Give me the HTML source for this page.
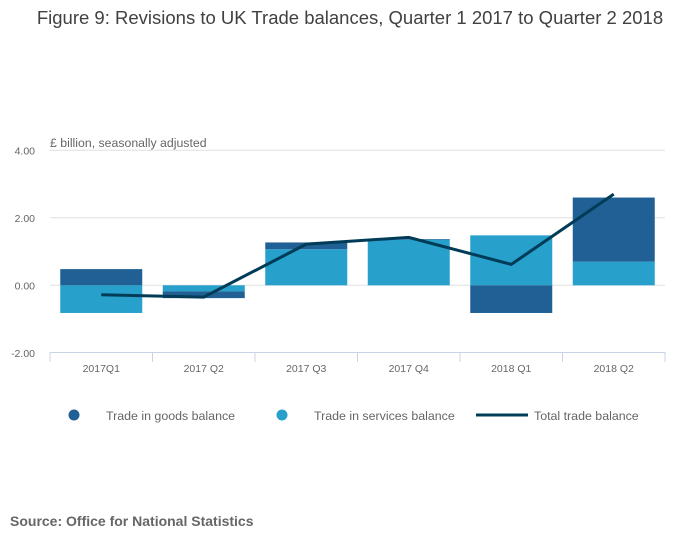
<!DOCTYPE html>
<html><head><meta charset="utf-8"><style>
body{margin:0;background:#fff;font-family:"Liberation Sans",sans-serif;}
</style></head><body>
<svg width="700" height="549" xmlns="http://www.w3.org/2000/svg">
<text x="350" y="24" text-anchor="middle" font-size="18.5" fill="#414042">Figure 9: Revisions to UK Trade balances, Quarter 1 2017 to Quarter 2 2018</text>
<text x="50" y="147" font-size="12.3" fill="#666">£ billion, seasonally adjusted</text>
<g id="grid"></g><g id="bars"></g><g id="line"></g><g id="axis"></g>
<g>
<circle cx="74" cy="415" r="5.5" fill="#206095"/>
<text x="106" y="420" font-size="12.4" fill="#666">Trade in goods balance</text>
<circle cx="282" cy="415" r="5.5" fill="#27a0cc"/>
<text x="314" y="420" font-size="12.4" fill="#666">Trade in services balance</text>
<line x1="476" y1="415" x2="528" y2="415" stroke="#003c57" stroke-width="3"/>
<text x="534" y="420" font-size="12.4" fill="#666">Total trade balance</text>
</g>
<text x="10" y="526" font-size="14" font-weight="bold" fill="#666">Source: Office for National Statistics</text>
</svg>
<script>
const categories=["2017Q1","2017 Q2","2017 Q3","2017 Q4","2018 Q1","2018 Q2"];
const goods=[0.48,-0.2,0.2,0.02,-0.82,1.9];
const services=[-0.82,-0.18,1.07,1.35,1.48,0.7];
const total=[-0.28,-0.35,1.22,1.42,0.62,2.7];
const yTicks=[4,2,0,-2];
const NS="http://www.w3.org/2000/svg";
const L=50,R=665,step=(R-L)/categories.length,bw=82;
function y(v){return 285.3-v*33.75;}
function xc(i){return L+step*(i+0.5);}
function mk(t,a,p){const e=document.createElementNS(NS,t);for(const k in a)e.setAttribute(k,a[k]);document.getElementById(p).appendChild(e);return e;}
yTicks.forEach(v=>{
 if(v!==-2){const g=mk('line',{x1:L,x2:R,y1:y(v),y2:y(v),stroke:'#e0e0e0'},'grid');
 
 }
 const t=mk('text',{x:35,y:y(v)+4,'text-anchor':'end','font-size':10.5,fill:'#666'},'axis');
 t.textContent=v.toFixed(2);
 
 
});
const ax=mk('line',{x1:L,x2:R,y1:352.5,y2:352.5,stroke:'#c8d3e6'},'axis');


for(let i=0;i<=categories.length;i++){const tk=mk('line',{x1:L+step*i,x2:L+step*i,y1:352,y2:362,stroke:'#c8d3e6'},'axis');
 
 }
categories.forEach((c,i)=>{
 const t=mk('text',{x:xc(i),y:372,'text-anchor':'middle','font-size':10.5,fill:'#666'},'axis');
 t.textContent=c;
 
 
 let pos=0,neg=0;
 [[services[i],'#27a0cc','bar-services'],[goods[i],'#206095','bar-goods']].forEach(([v,col,n])=>{
  let y0,y1;
  if(v>=0){y0=pos;y1=pos+v;pos=y1;}else{y0=neg;y1=neg+v;neg=y1;}
  const r=mk('rect',{x:xc(i)-bw/2,y:Math.min(y(y0),y(y1)),width:bw,height:Math.abs(y(y1)-y(y0)),fill:col},'bars');
  
  
 });
});
const ln=mk('polyline',{points:total.map((v,i)=>xc(i)+','+y(v)).join(' '),fill:'none',stroke:'#003c57','stroke-width':3},'line');


</script>
</body></html>
